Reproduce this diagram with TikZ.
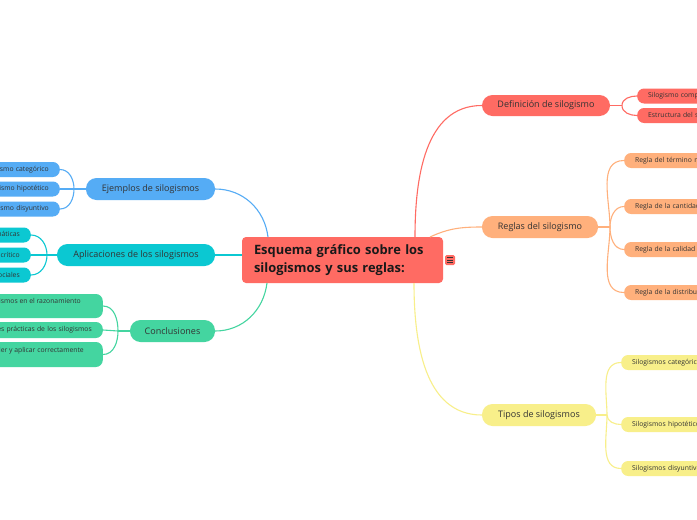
\documentclass[tikz,border=0pt]{standalone}
\usepackage{fontspec}
\setmainfont{Open Sans}
\definecolor{cred}{HTML}{FF6B63}
\definecolor{corange}{HTML}{FFB07C}
\definecolor{cyellow}{HTML}{F8EF8A}
\definecolor{cblue}{HTML}{55ACF5}
\definecolor{ccyan}{HTML}{0BC8D2}
\definecolor{cgreen}{HTML}{44D5A0}
\definecolor{ctext}{HTML}{333333}
\begin{document}
\begin{tikzpicture}[x=1pt,y=-1pt,
  conn/.style={line width=1.1pt},
  pbox/.style={rounded corners=10.5pt, inner sep=0pt, font=\fontsize{9}{11}\selectfont, text=ctext},
  cbox/.style={rounded corners=7pt, inner xsep=11pt, inner ysep=0pt, minimum height=15pt, font=\fontsize{6.8}{8.5}\selectfont, text=ctext},
  cboxR/.style={cbox, anchor=west, text width=200pt, align=left},
  cboxL/.style={cbox, anchor=east, text width=200pt, align=right},
]
\useasboundingbox (0,0) rectangle (697,520);
\clip (0,0) rectangle (697,520);
\fill[white] (0,0) rectangle (697,520);

% central node
\node[fill=cred, rounded corners=4pt, minimum width=201pt, minimum height=46pt, inner sep=0pt,
      text width=177pt, align=left, font=\fontsize{12.9}{18}\selectfont\bfseries, text=black!90]
  (center) at (342.5,260) {Esquema gráfico sobre los\\silogismos y sus reglas:};
\node[fill=cred, rounded corners=1.5pt, minimum width=10pt, minimum height=10pt, inner sep=0pt] (icon) at (450,260) {};
\foreach \dy in {-2.2,0,2.2}
  \draw[line width=0.8pt, black!80] ([xshift=-2.6pt,yshift=\dy pt]icon.center) -- ([xshift=2.6pt,yshift=\dy pt]icon.center);

% right branches
\node[pbox, fill=cred, minimum width=128pt, minimum height=21pt] (def) at (546,105.5) {Definición de silogismo};
\node[cboxR, fill=cred] (d1) at (637,96) {Silogismo compuesto};
\node[cboxR, fill=cred] (d2) at (637,115.5) {Estructura del silogismo};

\node[pbox, fill=corange, minimum width=116pt, minimum height=22pt] (reg) at (540,227) {Reglas del silogismo};
\node[cboxR, fill=corange] (r1) at (624,160.5) {Regla del término medio};
\node[cboxR, fill=corange] (r2) at (624,206.5) {Regla de la cantidad};
\node[cboxR, fill=corange] (r3) at (624,249.5) {Regla de la calidad};
\node[cboxR, fill=corange] (r4) at (624,292.5) {Regla de la distribución};

\node[pbox, fill=cyellow, minimum width=114pt, minimum height=22pt] (tip) at (539,415) {Tipos de silogismos};
\node[cboxR, fill=cyellow] (t1) at (621,362.5) {Silogismos categóricos};
\node[cboxR, fill=cyellow] (t2) at (621,424.5) {Silogismos hipotéticos};
\node[cboxR, fill=cyellow] (t3) at (621,468.5) {Silogismos disyuntivos};

% left branches
\node[pbox, fill=cblue, minimum width=129pt, minimum height=22pt] (ej) at (150.5,189) {Ejemplos de silogismos};
\node[cboxL, fill=cblue] (e1) at (60,169.5) {Silogismo categórico};
\node[cboxL, fill=cblue] (e2) at (60,189) {Silogismo hipotético};
\node[cboxL, fill=cblue] (e3) at (60,209) {Silogismo disyuntivo};

\node[pbox, fill=ccyan, minimum width=158pt, minimum height=22pt] (apl) at (136,255) {Aplicaciones de los silogismos};
\node[cboxL, fill=ccyan] (a1) at (31,235) {Aplicaciones matemáticas};
\node[cboxL, fill=ccyan] (a2) at (31,255) {Pensamiento crítico};
\node[cboxL, fill=ccyan] (a3) at (31,275) {Ciencias sociales};

\node[pbox, fill=cgreen, minimum width=85pt, minimum height=22pt] (con) at (172.5,331) {Conclusiones};
\node[cbox, fill=cgreen, anchor=east, align=left, minimum height=24pt] (c1) at (103,306)
  {Importancia de los silogismos en el razonamiento\hspace*{11pt}\\lógico};
\node[cboxL, fill=cgreen, minimum height=16pt] (c2) at (103,330) {Aplicaciones prácticas de los silogismos};
\node[cbox, fill=cgreen, anchor=east, align=left, minimum height=25pt] (c3) at (103,354.5)
  {Importancia de comprender y aplicar correctamente\hspace*{8pt}\\las reglas};

% main connectors
\coordinate (cR) at (415,237);
\coordinate (cO) at (430,237);
\coordinate (cY) at (414,283);
\coordinate (cB) at (268,237);
\coordinate (cG) at (267,283);
\draw[conn, cred] (cR) to[out=90,in=180] (def.west);
\draw[conn, corange] (cO) to[out=25,in=180] (reg.west);
\draw[conn, cyellow] (cY) to[out=-90,in=180] (tip.west);
\draw[conn, cblue] (cB) to[out=97,in=0] (ej.east);
\draw[conn, cgreen] (cG) to[out=-97,in=0] (con.east);
\draw[conn, ccyan] (apl.east) -- (apl.east -| center.west);

% fans right
\coordinate (fd) at (622,105.5);
\draw[conn, cred] (def.east) -- (fd);
\draw[conn, cred] (fd) to[out=90,in=180] (d1.west);
\draw[conn, cred] (fd) to[out=-90,in=180] (d2.west);

\coordinate (fr) at (610,227);
\draw[conn, corange] (reg.east) -- (fr);
\draw[conn, corange] (fr) to[out=90,in=180] (r1.west);
\draw[conn, corange] (fr) to[out=90,in=180] (r2.west);
\draw[conn, corange] (fr) to[out=-90,in=180] (r3.west);
\draw[conn, corange] (fr) to[out=-90,in=180] (r4.west);

\coordinate (ft) at (607,415);
\draw[conn, cyellow] (tip.east) -- (ft);
\draw[conn, cyellow] (ft) to[out=90,in=180] (t1.west);
\draw[conn, cyellow] (ft) to[out=-90,in=180] (t2.west);
\draw[conn, cyellow] (ft) to[out=-90,in=180] (t3.west);

% fans left
\coordinate (fe) at (74,189);
\draw[conn, cblue] (ej.west) -- (fe);
\draw[conn, cblue] (fe) to[out=90,in=0] (e1.east);
\draw[conn, cblue] (fe) -- (e2.east);
\draw[conn, cblue] (fe) to[out=-90,in=0] (e3.east);

\coordinate (fa) at (47,255);
\draw[conn, ccyan] (apl.west) -- (fa);
\draw[conn, ccyan] (fa) to[out=90,in=0] (a1.east);
\draw[conn, ccyan] (fa) -- (a2.east);
\draw[conn, ccyan] (fa) to[out=-90,in=0] (a3.east);

\coordinate (fc) at (118,331);
\draw[conn, cgreen] (con.west) -- (fc);
\draw[conn, cgreen] (fc) to[out=90,in=0] (c1.east);
\draw[conn, cgreen] (fc) -- (c2.east);
\draw[conn, cgreen] (fc) to[out=-90,in=0] (c3.east);
\end{tikzpicture}
\end{document}
